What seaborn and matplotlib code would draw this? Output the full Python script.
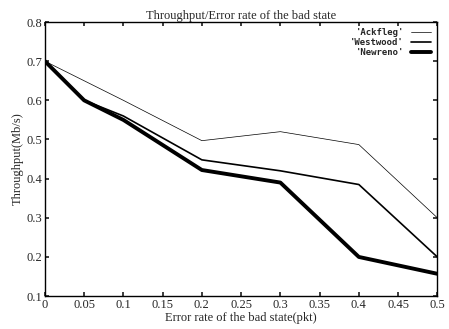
import matplotlib
matplotlib.use("Agg")
import matplotlib.pyplot as plt
import seaborn as sns
import pandas as pd

x = [0, 0.05, 0.1, 0.2, 0.3, 0.4, 0.5]
ackfleg = [0.70, 0.65, 0.60, 0.497, 0.52, 0.487, 0.30]
westwood = [0.70, 0.60, 0.56, 0.448, 0.42, 0.385, 0.20]
newreno = [0.70, 0.60, 0.55, 0.422, 0.39, 0.20, 0.157]
series = ["'Ackfleg'", "'Westwood'", "'Newreno'"]
xticks = [0, 0.05, 0.1, 0.15, 0.2, 0.25, 0.3, 0.35, 0.4, 0.45, 0.5]
yticks = [0.1, 0.2, 0.3, 0.4, 0.5, 0.6, 0.7, 0.8]

df = pd.DataFrame({
    "x": x * 3,
    "y": ackfleg + westwood + newreno,
    "s": [series[0]] * len(x) + [series[1]] * len(x) + [series[2]] * len(x),
})

sns.set_theme(style="white")
plt.rcParams['font.family'] = ['Liberation Serif', 'DejaVu Serif']

fig = plt.figure(figsize=(4.49, 3.29), dpi=100)
ax = fig.add_axes([0.1, 0.1, 0.874, 0.833])
sns.lineplot(data=df, x="x", y="y", hue="s", size="s",
             sizes={series[0]: 0.5, series[1]: 1.2, series[2]: 2.8},
             palette={s: "black" for s in series}, ax=ax, legend=True)

ax.set_xlim(0, 0.5)
ax.set_ylim(0.1, 0.8)
ax.set_xticks(xticks)
ax.set_xticklabels([f"{t:g}" for t in xticks], fontsize=9)
ax.set_yticks(yticks)
ax.set_yticklabels([f"{t:g}" for t in yticks], fontsize=9)
ax.tick_params(direction="in", length=3, top=True, right=True, bottom=True, left=True, pad=2)
for sp in ax.spines.values():
    sp.set_color("black")
    sp.set_linewidth(1.0)
ax.set_xlabel("Error rate of the bad state(pkt)", fontsize=9, labelpad=1)
ax.set_ylabel("Throughput(Mb/s)", fontsize=9, labelpad=2)
ax.set_title("Throughput/Error rate of the bad state", fontsize=9, pad=2)

handles, labels = ax.get_legend_handles_labels()
leg = ax.legend(handles, labels, loc="upper right", frameon=False,
                handlelength=2.2, borderpad=0.2, labelspacing=0.1,
                prop={"family": "DejaVu Sans Mono", "weight": "bold", "size": 6.5},
                markerfirst=False)
for t in leg.get_texts():
    t.set_ha("right")

fig.savefig("out.png", dpi=100)
